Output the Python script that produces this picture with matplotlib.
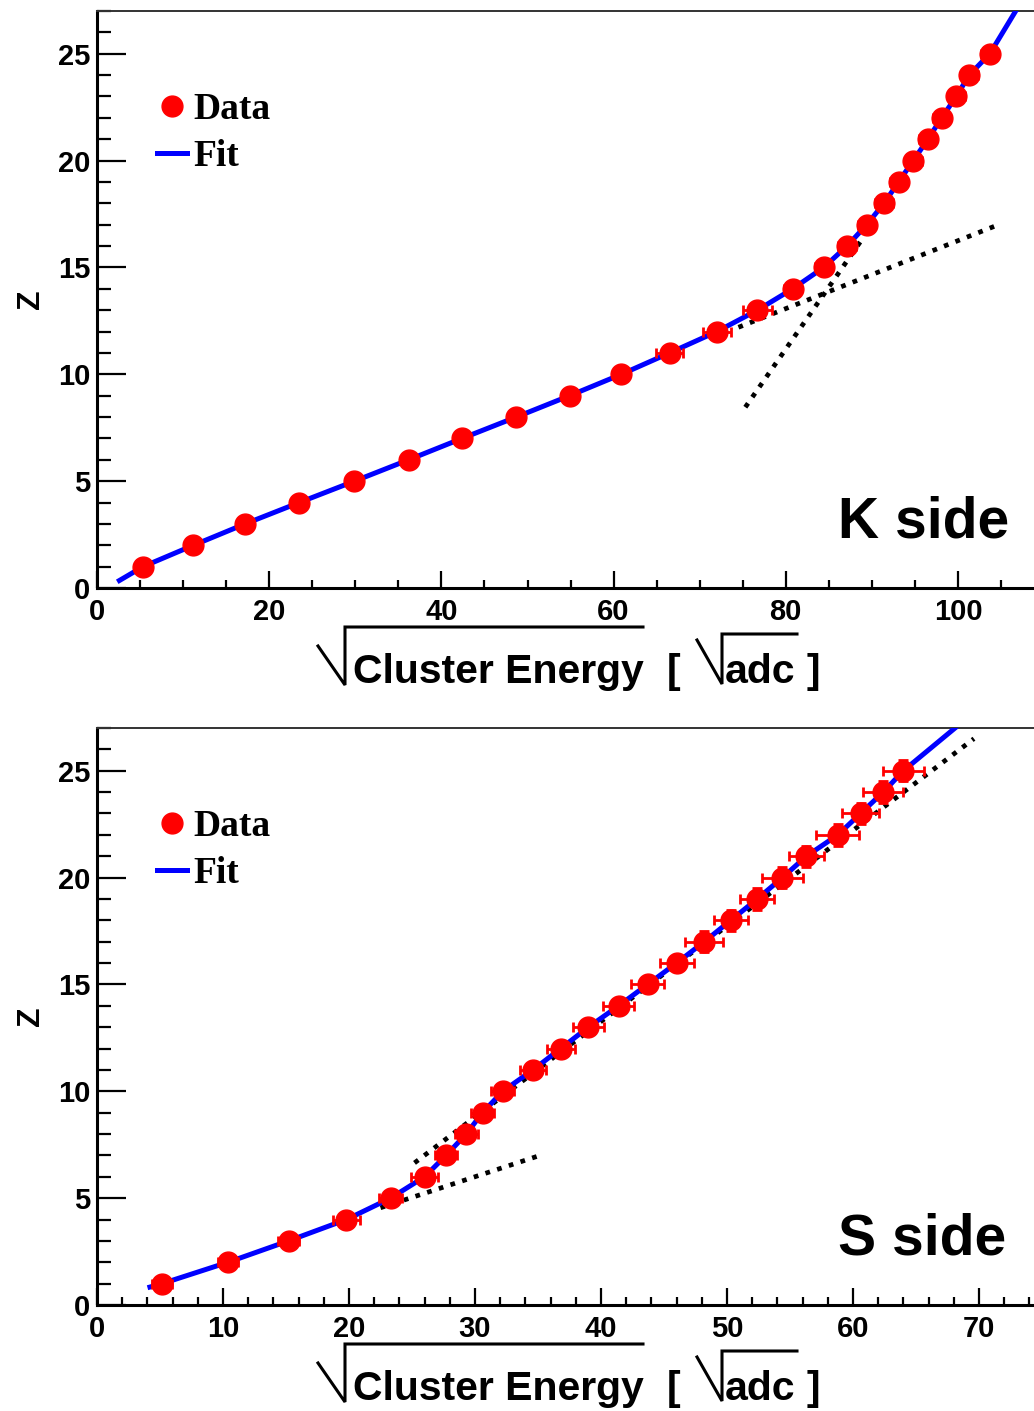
import matplotlib
matplotlib.use("Agg")
import matplotlib.pyplot as plt
from matplotlib.lines import Line2D
from matplotlib.ticker import MultipleLocator

# ---------------- data ----------------
z_charge = list(range(1, 26))

# K side: sqrt(cluster energy) per charge
k_x = [5.35, 11.2, 17.2, 23.5, 29.9, 36.2, 42.4, 48.7, 54.9, 60.9,
       66.5, 72.0, 76.7, 80.8, 84.4, 87.1, 89.4, 91.4, 93.1, 94.8,
       96.5, 98.1, 99.8, 101.3, 103.7]
k_xerr = [0.9, 0.9, 0.9, 0.9, 0.9, 0.9, 0.9, 0.9, 0.9, 0.9,
          1.6, 1.6, 1.7, 1.0, 1.0, 1.0, 1.0, 1.0, 1.0, 1.0,
          1.0, 1.0, 1.0, 1.0, 1.0]
k_fit_x = [2.6] + k_x + [106.7]
k_fit_z = [0.35] + z_charge + [27.0]
k_lin_low_x = [74.5, 104.7]
k_lin_low_z = [12.2, 17.0]
k_lin_high_x = [75.3, 89.0]
k_lin_high_z = [8.46, 16.4]

# S side
s_x = [5.16, 10.4, 15.2, 19.8, 23.3, 26.0, 27.7, 29.3, 30.6, 32.2,
       34.6, 36.8, 39.0, 41.4, 43.7, 46.0, 48.2, 50.3, 52.4, 54.4,
       56.3, 58.8, 60.6, 62.4, 64.0]
s_xerr = [0.8, 0.8, 0.8, 1.1, 0.9, 1.1, 0.9, 0.9, 0.9, 0.9,
          1.0, 1.1, 1.2, 1.25, 1.3, 1.35, 1.5, 1.35, 1.35, 1.6,
          1.4, 1.7, 1.5, 1.6, 1.6]
s_zerr = [0.0] * 16 + [0.5] * 9
s_fit_x = [4.2] + s_x + [68.1]
s_fit_z = [0.84] + z_charge + [27.0]
s_lin_low_x = [22.5, 34.9]
s_lin_low_z = [4.55, 6.95]
s_lin_high_x = [25.2, 69.6]
s_lin_high_z = [6.65, 26.5]

W, H = 1034, 1411
fig = plt.figure(figsize=(W / 100, H / 100), dpi=100)

SANS = "Liberation Sans"
SERIF = "Liberation Serif"


def fx(px):
    return px / W


def fy(py):
    return 1 - py / H


def panel(rect, xs, xerr, zerr, fit_x, fit_z, lows, highs, xmax, xmajor, xminor, side):
    ax = fig.add_axes(rect)
    ax.set_xlim(0, xmax)
    ax.set_ylim(0, 27)

    dot = (0, (1, 1.6))
    ax.plot(lows[0], lows[1], color="black", lw=3.4, ls=dot, zorder=2,
            dash_capstyle="butt")
    ax.plot(highs[0], highs[1], color="black", lw=3.4, ls=dot, zorder=2,
            dash_capstyle="butt")
    ax.plot(fit_x, fit_z, color="#0000ff", lw=3.6, zorder=3,
            solid_joinstyle="round")
    ax.errorbar(xs, z_charge, xerr=xerr, yerr=zerr, fmt="none", ecolor="#ff0000",
                elinewidth=2, capsize=3.5, capthick=2, zorder=4)
    ax.plot(xs, z_charge, "o", color="#ff0000", ms=15, mec="#ff0000", zorder=5)

    handles = [Line2D([], [], marker="o", ls="none", color="#ff0000", ms=15),
               Line2D([], [], color="#0000ff", lw=3.6)]
    ax.legend(handles, ["Data", "Fit"], loc="upper left",
              bbox_to_anchor=(0.064, 0.86), frameon=False, borderpad=0,
              borderaxespad=0, handlelength=0.8, handletextpad=0.16,
              labelspacing=0.32, numpoints=1,
              prop={"family": SERIF, "weight": "bold", "size": 27})

    ax.text(0.791, 0.087, side, transform=ax.transAxes, fontsize=41,
            fontweight="bold", family=SANS, ha="left", va="baseline")

    ax.xaxis.set_major_locator(MultipleLocator(xmajor))
    ax.xaxis.set_minor_locator(MultipleLocator(xminor))
    ax.yaxis.set_major_locator(MultipleLocator(5))
    ax.yaxis.set_minor_locator(MultipleLocator(1))
    ax.tick_params(axis="y", which="major", direction="in", length=21, width=1.6,
                   pad=5)
    ax.tick_params(axis="y", which="minor", direction="in", length=10, width=1.6)
    ax.tick_params(axis="x", which="major", direction="in", length=12, width=1.6,
                   pad=7)
    ax.tick_params(axis="x", which="minor", direction="in", length=6, width=1.6)
    for lab in ax.get_xticklabels() + ax.get_yticklabels():
        lab.set_family(SANS)
        lab.set_fontweight("bold")
        lab.set_fontsize(21)

    ax.spines["right"].set_visible(False)
    ax.spines["left"].set_linewidth(2.2)
    ax.spines["bottom"].set_linewidth(2.2)
    ax.spines["top"].set_linewidth(1.4)
    ax.spines["top"].set_color("#333333")

    ax.set_ylabel("Z", family=SANS, fontweight="bold", fontsize=23)
    ax.yaxis.label.set_va("center")
    ax.yaxis.set_label_coords(-0.0704, 0.5)
    return ax


def xlabel(dy):
    # radical over "Cluster Energy"
    lw = 2.2
    fig.add_artist(Line2D([fx(318), fx(345), fx(345), fx(643)],
                          [fy(646 + dy), fy(685 + dy), fy(627 + dy), fy(627 + dy)],
                          transform=fig.transFigure, color="black", lw=lw,
                          solid_joinstyle="miter"))
    fig.text(fx(353), fy(683 + dy), "Cluster Energy", family=SANS,
             fontweight="bold", fontsize=29.5, ha="left", va="baseline")
    fig.text(fx(667), fy(683 + dy), "[", family=SANS, fontweight="bold",
             fontsize=29.5, ha="left", va="baseline")
    fig.add_artist(Line2D([fx(697), fx(722), fx(722), fx(797)],
                          [fy(640 + dy), fy(684 + dy), fy(634 + dy), fy(634 + dy)],
                          transform=fig.transFigure, color="black", lw=lw,
                          solid_joinstyle="miter"))
    fig.text(fx(725), fy(683 + dy), "adc", family=SANS, fontweight="bold",
             fontsize=29.5, ha="left", va="baseline")
    fig.text(fx(807), fy(683 + dy), "]", family=SANS, fontweight="bold",
             fontsize=29.5, ha="left", va="baseline")


top_rect = [fx(97), fy(588), 1 - fx(97), (588 - 11) / H]
bot_rect = [fx(97), fy(1305), 1 - fx(97), (1305 - 728) / H]

panel(top_rect, k_x, k_xerr, None, k_fit_x, k_fit_z,
      (k_lin_low_x, k_lin_low_z), (k_lin_high_x, k_lin_high_z),
      937 / 8.61, 20, 5, "K side")
panel(bot_rect, s_x, s_xerr, s_zerr, s_fit_x, s_fit_z,
      (s_lin_low_x, s_lin_low_z), (s_lin_high_x, s_lin_high_z),
      937 / 12.6, 10, 2, "S side")

xlabel(0)
xlabel(717)

fig.savefig("out.png", dpi=100)
